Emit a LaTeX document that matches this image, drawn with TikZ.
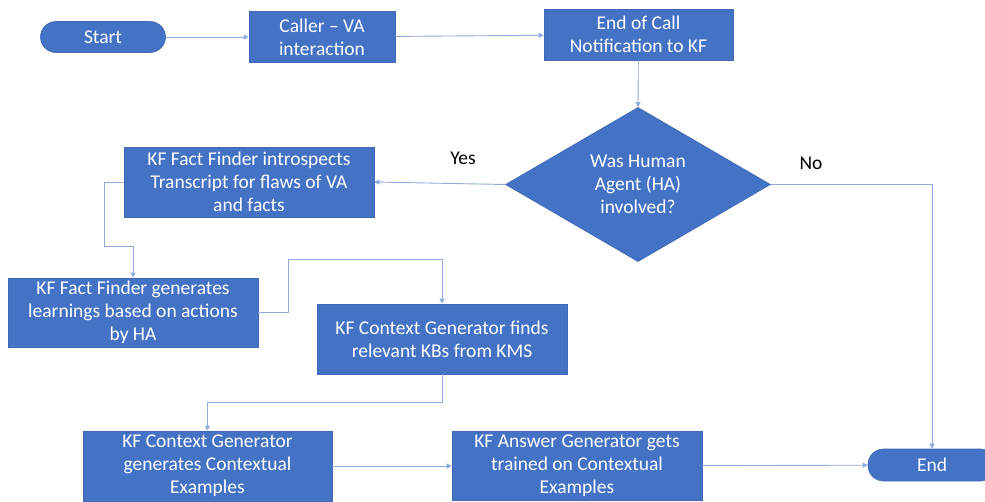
\documentclass[tikz,border=0pt]{standalone}
\usepackage{fontspec}
\setmainfont{Carlito}
\usetikzlibrary{shapes.geometric,arrows.meta}
\definecolor{boxblue}{HTML}{4472C4}
\definecolor{boxedge}{HTML}{3F69B5}
\definecolor{lineblue}{HTML}{8FAADC}
\tikzset{
  txt/.style={font=\fontsize{19.5}{23}\selectfont},
  procbox/.style={txt, rectangle, fill=boxblue, draw=boxedge, line width=0.6pt, text=white, align=center, inner sep=0pt},
  pill/.style={procbox, rounded corners=15.5pt},
  decision/.style={txt, diamond, fill=boxblue, draw=boxedge, line width=0.6pt, text=white, align=center, inner sep=0pt},
  conn/.style={draw=lineblue, line width=0.9pt, -{Triangle[length=5pt,width=5pt]}},
  lbl/.style={txt, text=black}
}
\begin{document}
\begin{tikzpicture}[x=1pt,y=-1pt]
\useasboundingbox (0,0) rectangle (985,501);
\node[pill, minimum width=125pt, minimum height=31pt] (start) at (103,37) {Start};
\node[procbox, minimum width=146pt, minimum height=51pt] (caller) at (322,37) {Caller -- VA\\interaction};
\node[procbox, minimum width=189pt, minimum height=51pt] (eoc) at (638.5,34.5) {End of Call\\Notification to KF};
\node[decision, minimum width=265pt, minimum height=137pt] (dia) at (638,184.5) {Was Human\\Agent (HA)\\involved?};
\node[procbox, minimum width=250pt, minimum height=70pt] (ff1) at (249,182) {KF Fact Finder introspects\\Transcript for flaws of VA\\and facts};
\node[procbox, minimum width=250pt, minimum height=69pt] (ff2) at (133,312.5) {KF Fact Finder generates\\learnings based on actions\\by HA};
\node[procbox, minimum width=250pt, minimum height=70pt] (cg1) at (442,339) {KF Context Generator finds\\relevant KBs from KMS};
\node[procbox, minimum width=249pt, minimum height=70pt] (cg2) at (207.5,466) {KF Context Generator\\generates Contextual\\Examples};
\node[procbox, minimum width=250pt, minimum height=69pt] (ag) at (577,466) {KF Answer Generator gets\\trained on Contextual\\Examples};
\node[pill, minimum width=128pt, minimum height=32pt] (endn) at (932,465) {End};
\node[lbl] (yes) at (463,158) {Yes};
\node[lbl] (no) at (811,163) {No};
\coordinate (b1) at (288,259);
\coordinate (b2) at (207.5,402);
\draw[conn] (start) -- (caller);
\draw[conn] (caller) -- (eoc);
\draw[conn] (eoc) -- (dia.north);
\draw[conn] (dia.west) -- (ff1.east);
\draw[conn] (dia.east) -| (endn.north);
\draw[conn] (ff1.west) -- ++(-19,0) -- ++(0,64) -| (ff2.north);
\draw[conn] (ff2.east) -| (b1) -| (cg1.north);
\draw[conn] (cg1.south) |- (b2) -- (cg2.north);
\draw[conn] (cg2) -- (ag);
\draw[conn] (ag) -- (endn);
\end{tikzpicture}
\end{document}
